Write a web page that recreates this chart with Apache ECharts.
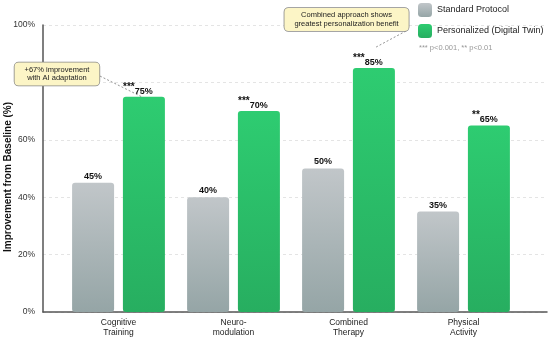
<!DOCTYPE html>
<html>
<head>
<meta charset="utf-8">
<script src="https://cdn.jsdelivr.net/npm/echarts@6/dist/echarts.min.js"></script>
<style>html,body{margin:0;padding:0;background:#fff}#c{width:550px;height:343px}</style>
</head>
<body>
<div id="c"></div>
<script>
// ---- data ----
const categories = ['Cognitive\nTraining', 'Neuro-\nmodulation', 'Combined\nTherapy', 'Physical\nActivity'];
const standardProtocol = [45, 40, 50, 35];
const personalized = [75, 70, 85, 65];
const significance = ['***', '***', '***', '**'];
const yTicks = [0, 20, 40, 60, 80, 100];
const seriesNames = ['Standard Protocol', 'Personalized (Digital Twin)'];
const noteText = '*** p<0.001, ** p<0.01';
const annotationTexts = ['+67% improvement\nwith AI adaptation', 'Combined approach shows\ngreatest personalization benefit'];

// annotation anchors in data coordinates (category index, value)
const annotationBoxes = [[-0.535, 82.9], [1.983, 101.9]];
const annotationLines = [[[-0.161, 82.2], [0.2, 75]], [[2.5, 97.9], [2.24, 92.3]]];

const FONT = '"Liberation Sans", Arial, sans-serif';
const xMin = -0.6565, xMax = 3.726;

function grad(top, bottom) {
  return new echarts.graphic.LinearGradient(0, 0, 0, 1, [
    { offset: 0, color: top }, { offset: 1, color: bottom }
  ]);
}
const grayGrad = grad('#c1c6c9', '#95a5a6');
const greenGrad = grad('#2ecc71', '#27ae60');

const chart = echarts.init(document.getElementById('c'), null, { renderer: 'canvas' });

const option = {
  animation: false,
  textStyle: { fontFamily: FONT },
  title: {
    text: noteText, left: 419, top: 44, padding: 0,
    textStyle: { fontSize: 7.5, color: '#999', fontWeight: 'normal', fontFamily: FONT }
  },
  legend: {
    orient: 'vertical', left: 418, top: 3, padding: 0,
    itemWidth: 14, itemHeight: 14, itemGap: 7,
    icon: 'roundRect',
    textStyle: { fontSize: 9, color: '#222', fontFamily: FONT },
    data: seriesNames
  },
  grid: [
    { left: 61, right: 29, top: 25, bottom: 31, outerBoundsMode: 'none', containLabel: false },
    { left: 43, right: 3, top: 25, bottom: 31, outerBoundsMode: 'none', containLabel: false },
    { left: 43, right: 3, top: 2, bottom: 31, outerBoundsMode: 'none', containLabel: false }
  ],
  xAxis: [
    {
      gridIndex: 0, type: 'category', data: categories,
      axisLine: { show: false }, axisTick: { show: false },
      axisLabel: { fontSize: 8.5, color: '#222', lineHeight: 10, margin: 6, fontFamily: FONT }
    },
    {
      gridIndex: 1, type: 'value', min: xMin, max: xMax,
      axisLine: { show: true, onZero: false, lineStyle: { color: '#555', width: 1.5 } },
      axisTick: { show: false }, axisLabel: { show: false }, splitLine: { show: false }
    },
    {
      gridIndex: 2, type: 'value', min: xMin, max: xMax, show: false
    }
  ],
  yAxis: [
    { gridIndex: 0, type: 'value', min: 0, max: 100, interval: 20, show: false },
    {
      gridIndex: 1, type: 'value', min: yTicks[0], max: yTicks[yTicks.length - 1], interval: 20,
      axisLine: { show: true, onZero: false, lineStyle: { color: '#555', width: 1.5 } },
      axisTick: { show: false },
      axisLabel: { formatter: '{value}%', fontSize: 8.5, color: '#333', margin: 8, fontFamily: FONT },
      splitLine: { show: true, lineStyle: { color: '#ddd', type: [3, 3], width: 0.8 } },
      name: 'Improvement from Baseline (%)', nameLocation: 'middle', nameGap: 30, nameMoveOverlap: false,
      nameTextStyle: { fontSize: 10, fontWeight: 'bold', color: '#111', fontFamily: FONT, padding: [0, 17, 0, 0] }
    },
    { gridIndex: 2, type: 'value', min: 0, max: 108, show: false }
  ],
  series: [
    {
      name: seriesNames[0], type: 'bar', xAxisIndex: 0, yAxisIndex: 0,
      data: standardProtocol, barWidth: 42, barGap: '21%',
      itemStyle: { color: grayGrad, borderRadius: 3 },
      label: {
        show: true, position: 'top', distance: 2,
        formatter: '{c}%', fontSize: 9, fontWeight: 'bold', color: '#111', fontFamily: FONT
      }
    },
    {
      name: seriesNames[1], type: 'bar', xAxisIndex: 0, yAxisIndex: 0,
      data: personalized, barWidth: 42, barGap: '21%',
      itemStyle: { color: greenGrad, borderRadius: 3 },
      label: {
        show: true, position: 'top', distance: 1,
        formatter: function (p) {
          const s = significance[p.dataIndex];
          return '{s|' + s + '}{v|' + p.value + '%}{p' + s.length + '|}';
        },
        rich: {
          s: { fontSize: 10, fontWeight: 'bold', color: '#111', lineHeight: 11, verticalAlign: 'top', fontFamily: FONT },
          v: { fontSize: 9, fontWeight: 'bold', color: '#111', lineHeight: 14, verticalAlign: 'bottom', fontFamily: FONT },
          p2: { width: 8, lineHeight: 14 },
          p3: { width: 12, lineHeight: 14 }
        }
      }
    },
    {
      name: 'annotations', type: 'scatter', xAxisIndex: 2, yAxisIndex: 2,
      symbolSize: 0, silent: true, z: 5,
      data: annotationBoxes,
      label: { show: false },
      markLine: {
        silent: true, symbol: ['none', 'none'], z: 4,
        label: { show: false },
        lineStyle: { color: '#777', type: [2, 2], width: 0.8 },
        data: annotationLines.map(function (l) { return [{ coord: l[0] }, { coord: l[1] }]; })
      }
    }
  ]
};
chart.setOption(option);

// annotation boxes placed from data coordinates
const boxGraphics = annotationBoxes.map(function (c, i) {
  const px = chart.convertToPixel({ gridIndex: 2 }, c);
  return {
    type: 'text', x: px[0], y: px[1], z: 100, silent: true,
    style: {
      text: annotationTexts[i], align: 'center', verticalAlign: 'middle',
      font: '7.5px ' + FONT, lineHeight: 8.5, fill: '#222',
      backgroundColor: '#fcf5c6', borderColor: '#888', borderWidth: 0.8, borderRadius: 4,
      padding: [3, 10]
    }
  };
});
chart.setOption({ graphic: boxGraphics });
</script>
</body>
</html>
